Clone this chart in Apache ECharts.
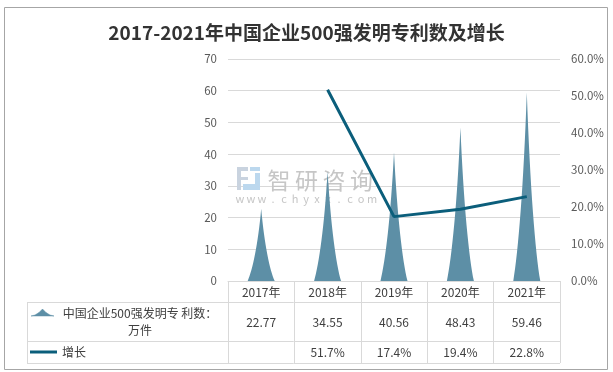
<!DOCTYPE html>
<html>
<head>
<meta charset="utf-8">
<script src="https://cdn.jsdelivr.net/npm/echarts@6/dist/echarts.min.js"></script>
<style>
html,body{margin:0;padding:0;background:#fff;}
#c{width:613px;height:372px;}
</style>
</head>
<body>
<div id="c"></div>
<script>
// ---- data ----
var categories = ['2017年', '2018年', '2019年', '2020年', '2021年'];
var patents = [22.77, 34.55, 40.56, 48.43, 59.46];
var growth = [null, 51.7, 17.4, 19.4, 22.8];
var seriesNames = ['中国企业500强发明专 利数：\n万件', '增长'];
var titleText = '2017-2021年中国企业500强发明专利数及增长';
var watermarkCn = '智研咨询';
var watermarkUrl = 'www.chyxx.com';

// ---- style ----
var FONT = '"Noto Sans CJK SC", "Noto Sans", sans-serif';
var BAR_COLOR = '#5d8fa6';
var LINE_COLOR = '#0b5e7b';
var GRID_COLOR = '#d9d9d9';
var TEXT_COLOR = '#404040';
var AXIS_TEXT = '#595959';
var G = {left: 228, right: 53, top: 59, bottom: 91};
var SPIKE = 'path://M0,100 C18,85 38,50 50,0 C62,50 82,85 100,100 Z';

var chart = echarts.init(document.getElementById('c'));
chart.setOption({
  backgroundColor: '#fff',
  animation: false,
  title: {
    text: titleText, left: 'center', top: 18,
    textStyle: {fontFamily: FONT, fontSize: 19, fontWeight: 'bold', color: '#333'}
  },
  grid: {left: G.left, right: G.right, top: G.top, bottom: G.bottom, containLabel: false},
  xAxis: {
    type: 'category', data: categories, boundaryGap: true,
    axisLine: {show: true, lineStyle: {color: GRID_COLOR, width: 1}},
    axisTick: {show: true, length: 82, lineStyle: {color: GRID_COLOR}},
    axisLabel: {show: false}
  },
  yAxis: [{
    type: 'value', min: 0, max: 70, interval: 10,
    axisLine: {show: false}, axisTick: {show: false},
    axisLabel: {margin: 11, color: AXIS_TEXT, fontSize: 11.5, fontFamily: FONT},
    splitLine: {lineStyle: {color: GRID_COLOR}}
  }, {
    type: 'value', min: 0, max: 60, interval: 10,
    axisLine: {show: false}, axisTick: {show: false},
    axisLabel: {margin: 11, color: AXIS_TEXT, fontSize: 11.5, fontFamily: FONT,
      formatter: function (v) { return v.toFixed(1) + '%'; }},
    splitLine: {show: false}
  }],
  series: [{
    name: seriesNames[0], type: 'pictorialBar', data: patents,
    symbol: SPIKE, symbolSize: [27, '100%'],
    itemStyle: {color: BAR_COLOR}, z: 3
  }, {
    name: seriesNames[1], type: 'line', yAxisIndex: 1, data: growth,
    symbol: 'none', connectNulls: false,
    lineStyle: {color: LINE_COLOR, width: 3}, z: 4
  }]
});

// ---- table + decorations built from axes ----
var centers = categories.map(function (c) { return chart.convertToPixel({xAxisIndex: 0}, c); });
var band = centers[1] - centers[0];
var xEnd = centers[centers.length - 1] + band / 2;
var yAxis0 = chart.convertToPixel({yAxisIndex: 0}, 0);
var rowH = [21, 39, 22];
var r1 = yAxis0 + rowH[0], r2 = r1 + rowH[1], r3 = r2 + rowH[2];
var tableLeft = 27;
var g = [];
function hline(xa, xb, y) {
  g.push({type: 'line', silent: true, shape: {x1: xa, y1: Math.round(y) + 0.5, x2: xb, y2: Math.round(y) + 0.5},
    style: {stroke: GRID_COLOR, lineWidth: 1}});
}
function vline(x, ya, yb) {
  g.push({type: 'line', silent: true, shape: {x1: Math.round(x) + 0.5, y1: ya, x2: Math.round(x) + 0.5, y2: yb},
    style: {stroke: GRID_COLOR, lineWidth: 1}});
}
hline(tableLeft, xEnd, r1);
hline(tableLeft, xEnd, r2);
hline(tableLeft, xEnd, r3);
vline(tableLeft, r1, r3);
function txt(s, x, y, opts) {
  opts = opts || {};
  g.push({type: 'text', x: x, y: y, silent: true, z: opts.z == null ? 5 : opts.z, style: {
    text: s, fontFamily: FONT, fontSize: opts.size || 12, fontWeight: 'normal',
    fill: opts.color || TEXT_COLOR, align: opts.align || 'center', verticalAlign: 'middle',
    lineHeight: opts.lh || 17
  }});
}
categories.forEach(function (c, i) {
  txt(c, centers[i], yAxis0 + rowH[0] / 2 + 0.5);
  txt(patents[i].toFixed(2), centers[i], r1 + rowH[1] / 2 + 1);
  if (growth[i] != null) txt(growth[i].toFixed(1) + '%', centers[i], r2 + rowH[2] / 2 + 0.5);
});
// legend keys in table
txt(seriesNames[0], 140, r1 + rowH[1] / 2 + 0.5, {lh: 17});
txt(seriesNames[1], 62, r2 + rowH[2] / 2 + 0.5, {align: 'left'});
g.push({type: 'polygon', silent: true, z: 6,
  shape: {points: [[31, 316], [35, 315], [39, 312.5], [42.5, 309], [46, 312.5], [50, 315], [54, 316]]},
  style: {fill: BAR_COLOR, stroke: BAR_COLOR, lineWidth: 0.5}});
g.push({type: 'line', silent: true, shape: {x1: 30, y1: r2 + rowH[2] / 2, x2: 57, y2: r2 + rowH[2] / 2},
  style: {stroke: LINE_COLOR, lineWidth: 3}});
// outer frame
g.push({type: 'rect', silent: true, shape: {x: 4.5, y: 7.5, width: 603, height: 362},
  style: {fill: 'none', stroke: '#a6a6a6', lineWidth: 1}});
// watermark
var WM1 = '#c9d3df', WM2 = '#bcd8ee';
[[237, 167, 11, 4, WM1], [237, 167, 4, 23, WM1], [237, 177, 11, 3, WM1],
 [250, 167, 10, 4, WM2], [255, 173, 5, 17, WM2], [243, 184, 17, 6, WM2]].forEach(function (r) {
  g.push({type: 'rect', silent: true, z: 0, shape: {x: r[0], y: r[1], width: r[2], height: r[3]}, style: {fill: r[4]}});
});
watermarkCn.split('').forEach(function (ch, i) {
  txt(ch, 279 + i * 27.5, 180, {size: 23, color: '#c6c6c6', z: 0});
});
watermarkUrl.split('').forEach(function (ch, i) {
  txt(ch, 240 + i * 11, 198.5, {size: 11, color: '#c6c6c6', z: 0});
});
chart.setOption({graphic: g});
</script>
</body>
</html>
